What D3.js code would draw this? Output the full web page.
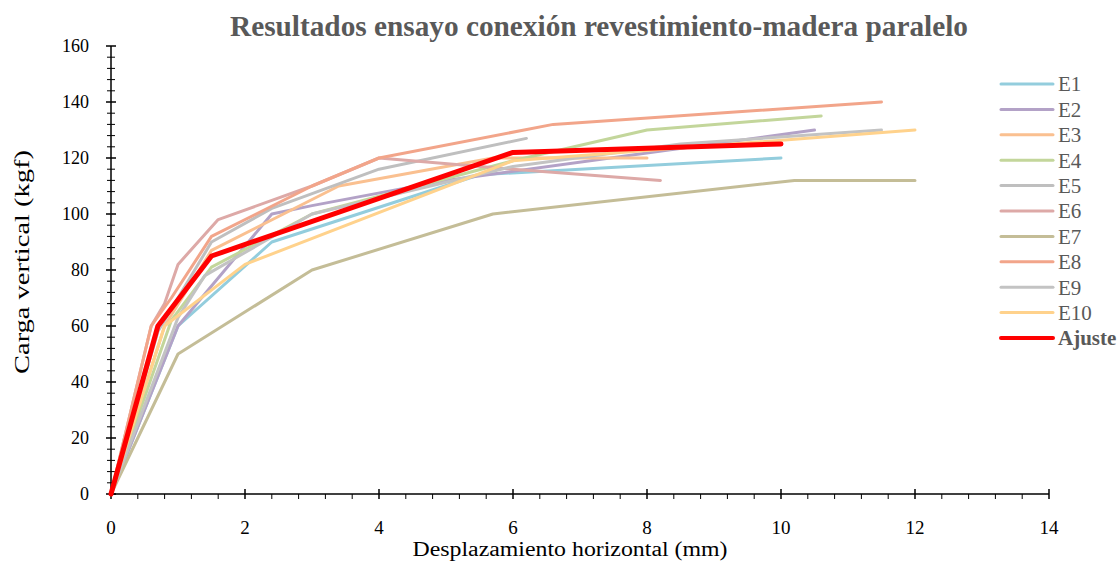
<!DOCTYPE html>
<html>
<head>
<meta charset="utf-8">
<script src="https://cdn.jsdelivr.net/npm/d3@7"></script>
<style>
  html, body { margin: 0; padding: 0; background: #fff; }
  svg { display: block; font-family: "Liberation Serif", "Times New Roman", serif; }
</style>
</head>
<body>
<svg id="chart" width="1118" height="563"></svg>
<script>
// Load-displacement curves, [displacement mm, load kgf]
const seriesNames = ["E1", "E2", "E3", "E4", "E5", "E6", "E7", "E8", "E9", "E10", "Ajuste"];
const e1 = [[0, 0], [1, 60], [2.4, 90], [5.5, 114], [10, 120]];
const e2 = [[0, 0], [1, 60], [2.4, 100], [3, 103], [5, 112], [10.5, 130]];
const e3 = [[0, 0], [0.8, 60], [1.5, 87], [3.4, 110], [5.7, 120], [8, 120]];
const e4 = [[0, 0], [0.9, 62], [1.5, 81], [3, 100], [6, 119], [8, 130], [10.6, 135]];
const e5 = [[0, 0], [0.7, 58], [1.5, 90], [2.4, 102], [4, 116], [6.2, 127]];
const e6 = [[0, 0], [0.6, 60], [0.8, 68], [1, 82], [1.6, 98], [3, 110], [4, 120], [6, 116], [8.2, 112]];
const e7 = [[0, 0], [1, 50], [3, 80], [5.7, 100], [10.2, 112], [12, 112]];
const e8 = [[0, 0], [0.6, 60], [0.9, 70], [1.5, 92], [3, 110], [4, 120], [6.6, 132], [11.5, 140]];
const e9 = [[0, 0], [1, 63], [1.4, 78], [3, 100], [6, 117], [8.5, 125], [11.5, 130]];
const e10 = [[0, 0], [0.8, 60], [2, 82], [6, 119], [12, 130]];
const ajuste = [[0, 0], [0.7, 60], [1.5, 85], [6, 122], [10, 125]];
const seriesData = [e1, e2, e3, e4, e5, e6, e7, e8, e9, e10, ajuste];
const seriesColors = ["#93CDDD", "#B3A2C7", "#FAC090", "#C3D69B", "#BFBFBF", "#DDA9A7",
                      "#C4BD97", "#F2A58A", "#C3C3C3", "#FFD28C", "#FF0000"];

const xTicks = [0, 2, 4, 6, 8, 10, 12, 14];
const yTicks = [0, 20, 40, 60, 80, 100, 120, 140, 160];

const title = "Resultados ensayo conexión revestimiento-madera paralelo";
const xTitle = "Desplazamiento horizontal (mm)";
const yTitle = "Carga vertical (kgf)";

const svg = d3.select("#chart");
const x = d3.scaleLinear().domain([0, 14]).range([111, 1049]);
const y = d3.scaleLinear().domain([0, 160]).range([494, 46]);

// title
svg.append("text")
  .attr("x", 599).attr("y", 36)
  .attr("text-anchor", "middle")
  .attr("font-size", 29).attr("font-weight", "bold")
  .attr("fill", "#595959")
  .attr("textLength", 738).attr("lengthAdjust", "spacingAndGlyphs")
  .text(title);

// y axis: major ticks crossing the line, minor ticks every 4 kgf
const yMinor = d3.range(0, 161, 4).filter(v => v % 20 !== 0);
const yAxisG = svg.append("g");
yAxisG.append("line")
  .attr("x1", x(0)).attr("x2", x(0)).attr("y1", y(0)).attr("y2", y(160))
  .attr("stroke", "#000").attr("stroke-width", 1.5);
yAxisG.selectAll("line.minor").data(yMinor).join("line")
  .attr("class", "minor")
  .attr("x1", x(0) - 4).attr("x2", x(0) + 4)
  .attr("y1", d => y(d)).attr("y2", d => y(d))
  .attr("stroke", "#000").attr("stroke-width", 1);
yAxisG.selectAll("line.major").data(yTicks).join("line")
  .attr("class", "major")
  .attr("x1", x(0) - 5).attr("x2", x(0) + 5)
  .attr("y1", d => y(d)).attr("y2", d => y(d))
  .attr("stroke", "#000").attr("stroke-width", 1.5);
yAxisG.selectAll("text").data(yTicks).join("text")
  .attr("x", 89).attr("y", d => y(d))
  .attr("dy", "0.35em")
  .attr("text-anchor", "end")
  .attr("font-size", 18).attr("fill", "#000")
  .text(d => d);

// x axis: major ticks crossing, minor ticks below every 0.4 mm
const xMinor = d3.range(1, 35).map(i => i * 0.4).filter(v => Math.abs(v / 2 - Math.round(v / 2)) > 1e-6);
const xAxisG = svg.append("g");
xAxisG.append("line")
  .attr("x1", x(0)).attr("x2", x(14)).attr("y1", y(0)).attr("y2", y(0))
  .attr("stroke", "#000").attr("stroke-width", 1.5);
xAxisG.selectAll("line.minor").data(xMinor).join("line")
  .attr("class", "minor")
  .attr("x1", d => x(d)).attr("x2", d => x(d))
  .attr("y1", y(0)).attr("y2", y(0) + 5)
  .attr("stroke", "#000").attr("stroke-width", 1);
xAxisG.selectAll("line.major").data(xTicks).join("line")
  .attr("class", "major")
  .attr("x1", d => x(d)).attr("x2", d => x(d))
  .attr("y1", y(0) - 5).attr("y2", y(0) + 5)
  .attr("stroke", "#000").attr("stroke-width", 1.5);
xAxisG.selectAll("text").data(xTicks).join("text")
  .attr("x", d => x(d)).attr("y", 534)
  .attr("text-anchor", "middle")
  .attr("font-size", 19).attr("fill", "#000")
  .text(d => d);

// axis titles
svg.append("text")
  .attr("x", 570).attr("y", 556)
  .attr("text-anchor", "middle")
  .attr("font-size", 20).attr("fill", "#000")
  .attr("textLength", 315).attr("lengthAdjust", "spacingAndGlyphs")
  .text(xTitle);
svg.append("text")
  .attr("transform", `translate(29,262) rotate(-90)`)
  .attr("text-anchor", "middle")
  .attr("font-size", 21).attr("fill", "#000")
  .attr("textLength", 224).attr("lengthAdjust", "spacingAndGlyphs")
  .text(yTitle);

// curves
const line = d3.line().x(d => x(d[0])).y(d => y(d[1]));
svg.append("g").selectAll("path").data(seriesData).join("path")
  .attr("d", line)
  .attr("fill", "none")
  .attr("stroke", (d, i) => seriesColors[i])
  .attr("stroke-width", (d, i) => i === seriesData.length - 1 ? 5 : 3)
  .attr("stroke-linejoin", "round")
  .attr("stroke-linecap", "round");

// legend
const legend = svg.append("g");
const rows = legend.selectAll("g").data(seriesNames).join("g")
  .attr("transform", (d, i) => `translate(1001,${84 + i * 25.4})`);
rows.append("line")
  .attr("x1", 0).attr("x2", 52).attr("y1", 0).attr("y2", 0)
  .attr("stroke", (d, i) => seriesColors[i])
  .attr("stroke-width", (d, i) => i === seriesNames.length - 1 ? 4 : 3)
  .attr("stroke-linecap", "round");
rows.append("text")
  .attr("x", 57).attr("y", 0).attr("dy", "0.35em")
  .attr("font-size", 21)
  .attr("font-weight", (d, i) => i === seriesNames.length - 1 ? "bold" : "normal")
  .attr("fill", "#595959")
  .text(d => d);
</script>
</body>
</html>
